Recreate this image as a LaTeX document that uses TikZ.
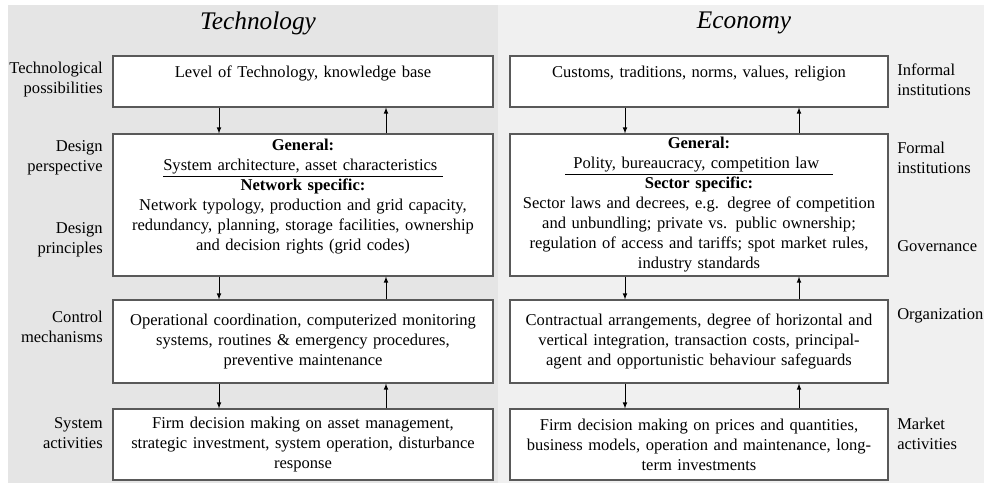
\documentclass[tikz,border=0pt]{standalone}
\usepackage{fontspec}
\setmainfont{Liberation Serif}
\usetikzlibrary{arrows, positioning}

\begin{document}
\begin{tikzpicture}[x=0.75pt,y=-0.75pt,>=latex,font=\fontsize{12.4}{15}\selectfont]
      \tikzstyle{box}=[draw=black!65,line width=0.8pt,fill=white,align=center,inner xsep=2.5pt,inner ysep=0pt]
      \tikzstyle{lbox}=[box,text width=280pt]
      \tikzstyle{rbox}=[box,text width=278.5pt]
      \tikzstyle{llab}=[align=right,anchor=east,inner sep=0pt]
      \tikzstyle{rlab}=[align=left,anchor=west,inner sep=0pt]
      \tikzstyle{head}=[font=\fontsize{19}{23}\selectfont\itshape]
      \tikzstyle{flow}=[->,line width=0.6pt]

      \useasboundingbox (0,0) rectangle (984,486);
      \fill[black!10] (8,5) rectangle (498,483);
      \fill[black!6] (498,5) rectangle (984,483);

      % headings
      \node[head](h_tech) at (258,23) {Technology};
      \node[head](h_econ) at (744,23) {Economy};

      % technology column
      \node[lbox,minimum height=38.25pt](t_1) at (303,81.5)
        {Level of Technology, knowledge base\\ \mbox{}};
      \node[lbox,minimum height=106.5pt](t_2) at (303,205)
        {\textbf{General:}\\
         \underline{System architecture, asset characteristics\hspace{4pt}}\\
         \textbf{Network specific:}\\
         Network typology, production and grid capacity,\\
         redundancy, planning, storage facilities, ownership\\
         and decision rights (grid codes)\\ \mbox{}};
      \node[lbox,minimum height=62.25pt](t_3) at (303,341.5)
        {Operational coordination, computerized monitoring\\
         systems, routines \& emergency procedures,\\
         preventive maintenance};
      \node[lbox,minimum height=53.25pt](t_4) at (303,444.5)
        {Firm decision making on asset management,\\
         strategic investment, system operation, disturbance\\
         response};

      % economy column
      \node[rbox,minimum height=38.25pt](e_1) at (699,81.5)
        {Customs, traditions, norms, values, religion\\ \mbox{}};
      \node[rbox,minimum height=106.5pt](e_2) at (699,205)
        {\textbf{General:}\\
         \underline{\hspace{6pt}Polity, bureaucracy, competition law\hspace{10pt}}\\
         \textbf{Sector specific:}\\
         Sector laws and decrees, e.g. degree of competition\\
         and unbundling; private vs. public ownership;\\
         regulation of access and tariffs; spot market rules,\\
         industry standards};
      \node[rbox,minimum height=62.25pt](e_3) at (699,341.5)
        {Contractual arrangements, degree of horizontal and\\
         vertical integration, transaction costs, principal-\\
         agent and opportunistic behaviour safeguards};
      \node[rbox,minimum height=53.25pt](e_4) at (699,444.5)
        {Firm decision making on prices and quantities,\\
         business models, operation and maintenance, long-\\
         term investments};

      % side labels
      \node[llab](l_poss) at (103,80) {Technological\\possibilities};
      \node[llab](l_persp) at (103,158) {Design\\perspective};
      \node[llab](l_princ) at (103,240) {Design\\principles};
      \node[llab](l_ctrl) at (103,327) {Control\\mechanisms};
      \node[llab](l_sys) at (103,433) {System\\activities};
      \node[rlab](r_inf) at (897,80) {Informal\\institutions};
      \node[rlab](r_form) at (897,158) {Formal\\institutions};
      \node[rlab](r_gov) at (897,246) {Governance};
      \node[rlab](r_org) at (897,316) {Organization};
      \node[rlab](r_mkt) at (897,434) {Market\\activities};

      % arrows between levels
      \path[flow]
      ([xshift=-63pt]t_1.south) edge ([xshift=-63pt]t_2.north)
      ([xshift=62.25pt]t_2.north) edge ([xshift=62.25pt]t_1.south)
      ([xshift=-63pt]t_2.south) edge ([xshift=-63pt]t_3.north)
      ([xshift=62.25pt]t_3.north) edge ([xshift=62.25pt]t_2.south)
      ([xshift=-63pt]t_3.south) edge ([xshift=-63pt]t_4.north)
      ([xshift=62.25pt]t_4.north) edge ([xshift=62.25pt]t_3.south)
      ([xshift=-55.5pt]e_1.south) edge ([xshift=-55.5pt]e_2.north)
      ([xshift=75pt]e_2.north) edge ([xshift=75pt]e_1.south)
      ([xshift=-55.5pt]e_2.south) edge ([xshift=-55.5pt]e_3.north)
      ([xshift=75pt]e_3.north) edge ([xshift=75pt]e_2.south)
      ([xshift=-55.5pt]e_3.south) edge ([xshift=-55.5pt]e_4.north)
      ([xshift=75pt]e_4.north) edge ([xshift=75pt]e_3.south);
\end{tikzpicture}
\end{document}
